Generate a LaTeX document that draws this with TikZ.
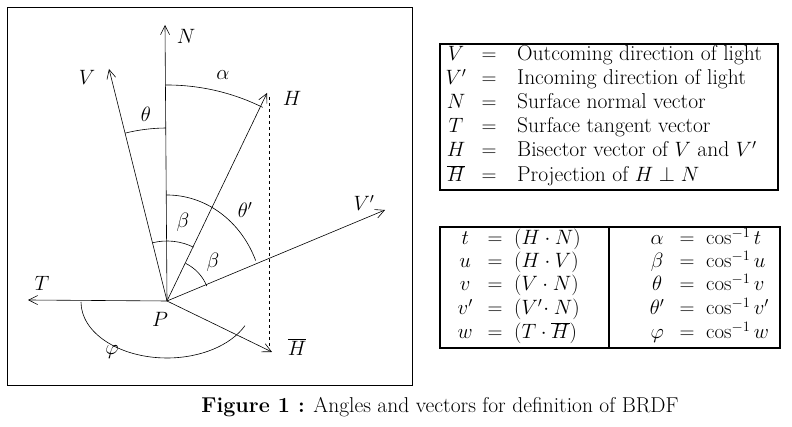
\documentclass[tikz,border=0pt]{standalone}
\usetikzlibrary{arrows.meta}
\begin{document}
\begin{tikzpicture}[x=1pt,y=1pt,font=\fontsize{21.5}{26}\selectfont,
  vec/.style={-{Straight Barb[length=9pt,width=9pt]},line width=0.6pt},
  ang/.style={line width=0.6pt},
  lab/.style={inner sep=0pt},
  box/.style={draw,line width=1.2pt}]
\useasboundingbox (0,0) rectangle (792,427);
\draw[line width=0.8pt] (7,42) rectangle (412,420);
\coordinate (P) at (167,126);
\coordinate (N) at (165,402);
\coordinate (V) at (109,358);
\coordinate (H) at (267,334);
\coordinate (Vp) at (385,217);
\coordinate (T) at (28,127);
\coordinate (Hb) at (272,75);
\foreach \t in {N,V,H,Vp,T,Hb} \draw[vec] (P) -- (\t);
\draw[dashed,line width=0.6pt] (269,330) -- (269,80);
% arcs
\draw[ang] (P) ++(90.4:216) arc[start angle=90.4,end angle=63.7,x radius=216,y radius=216];
\draw[ang] (P) ++(104:173) arc (104:90.4:173);
\draw[ang] (P) ++(90.4:106) arc[start angle=90.4,end angle=22.4,x radius=96,y radius=106];
\draw[ang] (P) ++(104:60) arc (104:63.7:60);
\draw[ang] (P) ++(63.7:42) arc (63.7:22.4:44);
\draw[ang] (81,125) arc[start angle=180,end angle=335,x radius=86,y radius=56];
\node[lab] (lN) at (186,391) {$N$};
\node[lab] (lV) at (87,350) {$V$};
\node[lab] (lH) at (292,329) {$H$};
\node[lab] (lVp) at (364,224) {$V'$};
\node[lab] (lT) at (42,144) {$T$};
\node[lab] (lP) at (160,108) {$P$};
\node[lab] (lHb) at (297,80) {$\overline{H}$};
\node[lab] (la) at (223,352) {$\alpha$};
\node[lab] (lth) at (146,313) {$\theta$};
\node[lab] (lthp) at (245,217) {$\theta'$};
\node[lab] (lb1) at (183,205) {$\beta$};
\node[lab] (lb2) at (213,165) {$\beta$};
\node[lab] (lph) at (112,75) {$\varphi$};
% table 1
\draw[box] (440,237) rectangle (778,383);
\foreach \y/\s/\t in {372/V/Outcoming direction of light, 348/V'/Incoming direction of light, 324/N/Surface normal vector, 300/T/Surface tangent vector, 276/H/Bisector vector of $V$ and $V'$, 251/\overline{H}/Projection of $H\perp N$}{
  \node[lab,anchor=base] at (456,\y-6) {$\s$};
  \node[lab,anchor=base] at (489,\y-6) {$=$};
  \node[lab,anchor=base west] at (517,\y-6) {\t};
}
% table 2
\draw[box] (440,79) rectangle (780,200);
\draw[line width=1.2pt] (609,79) -- (609,200);
\foreach \y/\a/\b/\c/\d in {188/t/(H\cdot N)/\alpha/t, 165/u/(H\cdot V)/\beta/u, 142/v/(V\cdot N)/\theta/v, 118/v'/(V'\!\cdot N)/\theta'/v', 94/w/(T\cdot\overline{H})/\varphi/w}{
  \node[lab,anchor=base west] at (454,\y-6) {$\makebox[22pt][c]{$\a$}\;=\;\b$};
  \node[lab,anchor=base west] at (646,\y-6) {$\makebox[22pt][c]{$\c$}\;=\;\cos^{-1}\d$};
}
\node[lab] (cap) at (440,20) {\textbf{Figure 1 :} Angles and vectors for definition of BRDF};
\end{tikzpicture}
\end{document}
